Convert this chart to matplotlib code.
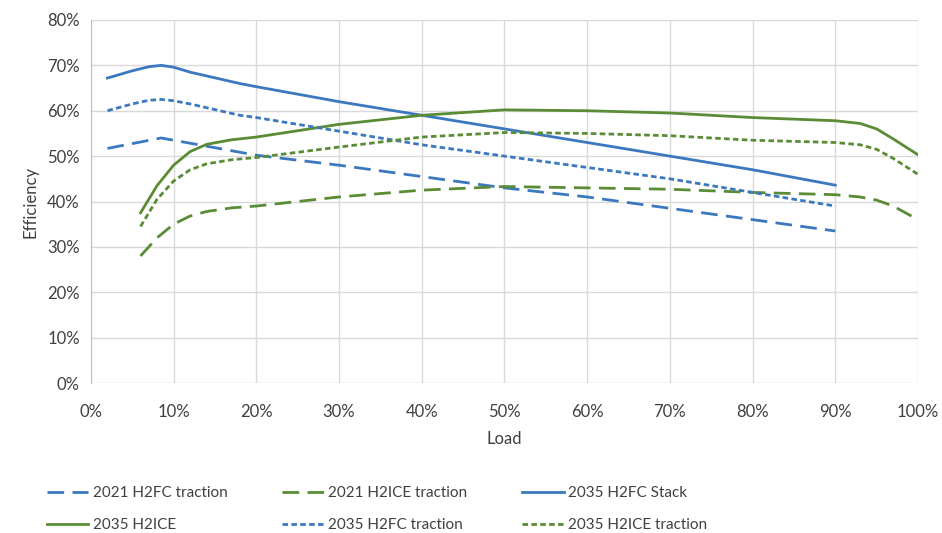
import numpy as np
import matplotlib.pyplot as plt
from matplotlib.ticker import PercentFormatter

plt.rcParams['font.family'] = ['Lato', 'DejaVu Sans']

# Data (load %, efficiency %)
fc_load = [2, 8.5, 20, 30, 40, 50, 60, 70, 80, 90]
fc2021_traction = [51.7, 54, 50.2, 48, 45.5, 43, 41, 38.5, 36, 33.5]
fc2035_stack_load = [2, 5, 7, 8.5, 10, 12, 18, 20, 30, 40, 50, 60, 70, 80, 90]
fc2035_stack = [67.2, 68.8, 69.7, 70, 69.6, 68.5, 66, 65.3, 62, 59, 56, 53, 50, 47, 43.6]
fc2035_traction_load = [2, 5, 7, 8.5, 10, 12, 18, 20, 30, 40, 50, 60, 70, 80, 90]
fc2035_traction = [60, 61.5, 62.3, 62.5, 62.2, 61.5, 59, 58.5, 55.5, 52.5, 50, 47.5, 45, 42, 39]

ice_load = [6, 8, 10, 12, 14, 17, 20, 30, 40, 50, 60, 70, 80, 90, 93, 95, 97, 100]
ice2021_traction = [28, 32, 35, 36.8, 37.8, 38.6, 39, 41, 42.5, 43.3, 43, 42.7, 42, 41.5, 41, 40.3, 39, 36]
ice2035 = [37.5, 43.5, 48, 51, 52.6, 53.6, 54.2, 57, 59, 60.2, 60, 59.5, 58.5, 57.8, 57.2, 56, 53.8, 50.3]
ice2035_traction = [34.5, 40.5, 44.5, 47, 48.3, 49.2, 49.7, 52, 54.2, 55.2, 55, 54.5, 53.5, 53, 52.5, 51.5, 49.5, 46]

blue = '#3B78BF'
green = '#5A8C36'

fig = plt.figure(figsize=(9.42, 5.33), dpi=100)
ax = fig.add_axes([0.0965, 0.2814, 0.8780, 0.6811])

lw = 2.0
h1, = ax.plot(fc_load, fc2021_traction, color=blue, lw=lw, dashes=(6, 3), label='2021 H2FC traction')
h2, = ax.plot(ice_load, ice2021_traction, color=green, lw=lw, dashes=(6, 3), label='2021 H2ICE traction')
h3, = ax.plot(fc2035_stack_load, fc2035_stack, color=blue, lw=lw, label='2035 H2FC Stack')
h4, = ax.plot(ice_load, ice2035, color=green, lw=lw, label='2035 H2ICE')
h5, = ax.plot(fc2035_traction_load, fc2035_traction, color=blue, lw=lw, dashes=(2, 1.2), label='2035 H2FC traction')
h6, = ax.plot(ice_load, ice2035_traction, color=green, lw=lw, dashes=(2, 1.2), label='2035 H2ICE traction')

ax.set_xlim(0, 100)
ax.set_ylim(0, 80)
ax.set_xticks(np.arange(0, 101, 10))
ax.set_yticks(np.arange(0, 81, 10))
ax.xaxis.set_major_formatter(PercentFormatter(decimals=0))
ax.yaxis.set_major_formatter(PercentFormatter(decimals=0))
ax.grid(True, color='#D9D9D9', lw=1)
ax.set_axisbelow(True)
for s in ['top', 'right', 'bottom']:
    ax.spines[s].set_visible(False)
ax.spines['left'].set_color('#BFBFBF')
ax.tick_params(length=0, labelsize=12, colors='#404040')
ax.tick_params(axis='x', pad=15)
ax.tick_params(axis='y', pad=8)
ax.set_xlabel('Load', fontsize=12, color='#404040', labelpad=8)
ax.set_ylabel('Efficiency', fontsize=12, color='#404040', labelpad=6)

handles = [h1, h4, h2, h5, h3, h6]
fig.legend(handles=handles, labels=[h.get_label() for h in handles], ncol=3,
           loc='lower left', bbox_to_anchor=(0.035, -0.024), frameon=False,
           fontsize=11, handlelength=2.7, handletextpad=0.3, columnspacing=3.6,
           labelspacing=1.15, labelcolor='#404040')

fig.savefig('out.png', dpi=100)
